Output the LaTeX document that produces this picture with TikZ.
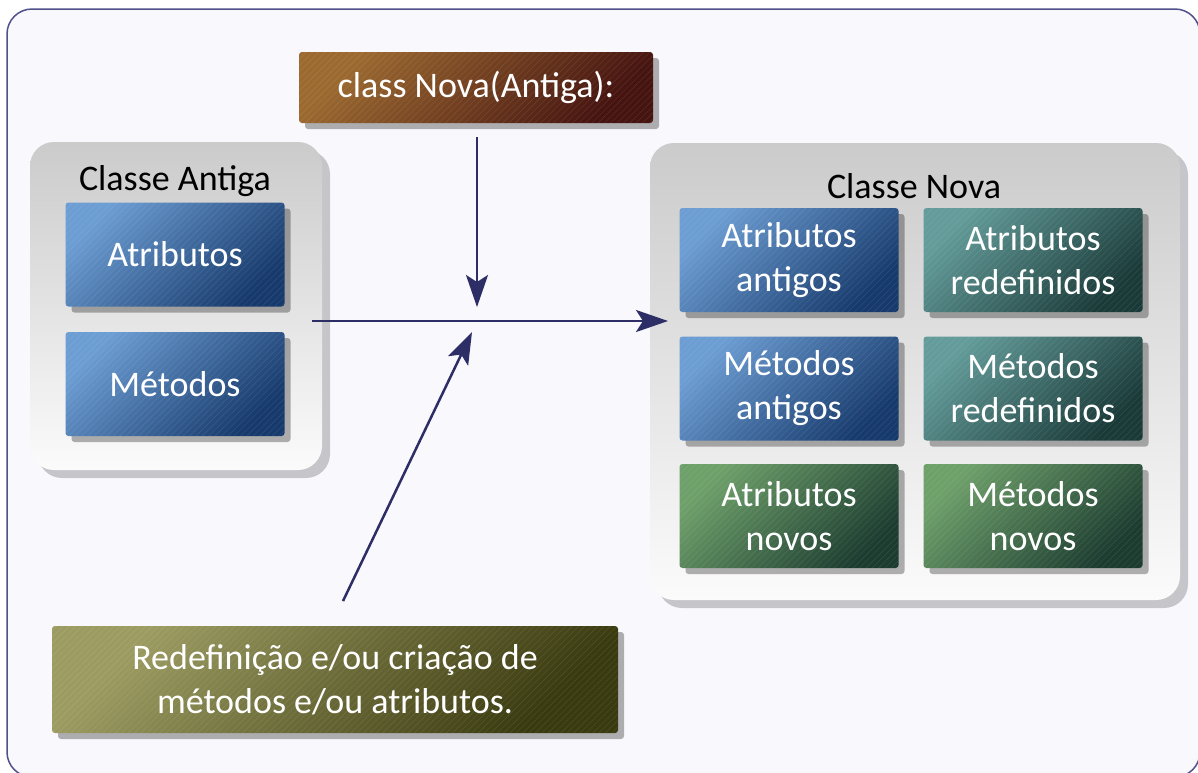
\documentclass[tikz,border=0pt]{standalone}
\usepackage{fontspec}
\setmainfont{Carlito}
\usetikzlibrary{shadows,patterns.meta,arrows.meta}
\definecolor{framec}{HTML}{50508A}
\definecolor{bgc}{HTML}{F8F8FD}
\definecolor{arrowc}{HTML}{2E2E66}
\definecolor{contTop}{HTML}{CBCBCB}
\definecolor{contBot}{HTML}{FBFBFB}
\definecolor{blueL}{HTML}{6C9DD3}
\definecolor{blueD}{HTML}{173A6C}
\definecolor{tealL}{HTML}{639C9A}
\definecolor{tealD}{HTML}{1A3A38}
\definecolor{greenL}{HTML}{6EA06A}
\definecolor{greenD}{HTML}{1C3C30}
\definecolor{brownL}{HTML}{9C6A30}
\definecolor{brownD}{HTML}{461410}
\definecolor{oliveL}{HTML}{9C9C62}
\definecolor{oliveD}{HTML}{3A3A10}
\tikzset{
  card/.style={rounded corners=3pt, text=white, align=center,
    font=\fontsize{36}{44}\selectfont, inner sep=0pt,
    drop shadow={shadow xshift=6pt, shadow yshift=-6pt, fill=black, opacity=0.3},
    postaction={opacity=0.09, pattern={Lines[angle=45,distance=4.5pt,line width=0.6pt]},
      pattern color=white}},
  cell/.style={card, minimum width=219pt, minimum height=104pt},
  bluecard/.style={top color=blueL, bottom color=blueD, shading angle=45},
  tealcard/.style={top color=tealL, bottom color=tealD, shading angle=45},
  greencard/.style={top color=greenL, bottom color=greenD, shading angle=45},
  browncard/.style={top color=brownL, bottom color=brownD, shading angle=45},
  olivecard/.style={top color=oliveL, bottom color=oliveD, shading angle=45},
  container/.style={rounded corners=24pt, top color=contTop, bottom color=contBot,
    drop shadow={shadow xshift=8pt, shadow yshift=-8pt, fill=black, opacity=0.2}},
  title/.style={font=\fontsize{36}{43}\selectfont, text=black, inner sep=0pt},
  arr/.style={draw=arrowc, line width=2.5pt,
    -{Stealth[length=32pt,width=22pt,inset=7pt]}}
}
\begin{document}
\begin{tikzpicture}[x=1pt,y=-1pt]
\path[use as bounding box] (0,0) rectangle (1198,772);
\fill[white] (0,0) rectangle (1198,772);
\clip (0,0) rectangle (1198,772);
\draw[framec, line width=1.5pt, fill=bgc, rounded corners=25pt] (7,9) rectangle (1200,777);

% containers
\node[container, minimum width=292pt, minimum height=328pt] (antiga) at (176,306) {};
\node[container, minimum width=530pt, minimum height=457pt] (nova) at (915,371.5) {};
\node[title] (tantiga) at (175,181) {Classe Antiga};
\node[title] (tnova) at (914,186) {Classe Nova};

% left cells
\node[cell, bluecard] (attr) at (175,254.5) {Atributos};
\node[cell, bluecard] (meth) at (175,384) {Métodos};

% right cells
\node[cell, bluecard] (aa) at (789,260) {Atributos\\antigos};
\node[cell, tealcard] (ar) at (1033,260) {Atributos\\redefinidos};
\node[cell, bluecard] (ma) at (789,388.5) {Métodos\\antigos};
\node[cell, tealcard] (mr) at (1033,388.5) {Métodos\\redefinidos};
\node[cell, greencard] (an) at (789,516) {Atributos\\novos};
\node[cell, greencard] (mn) at (1033,516) {Métodos\\novos};

% top and bottom boxes
\node[card, browncard, minimum width=354pt, minimum height=71pt] (top) at (476,87.5) {class Nova(Antiga):};
\node[card, olivecard, minimum width=566pt, minimum height=107pt] (redef) at (335,679.5) {Redefinição e/ou criação de\\métodos e/ou atributos.};

% connectors
\coordinate (hstart) at (312,321);
\coordinate (hend) at (668,321);
\coordinate (vstart) at (477,137);
\coordinate (vend) at (477,307);
\coordinate (dstart) at (343,601);
\coordinate (dend) at (472,332);
\draw[arr] (hstart) -- (hend);
\draw[arr] (vstart) -- (vend);
\draw[arr] (dstart) -- (dend);
\end{tikzpicture}
\end{document}
